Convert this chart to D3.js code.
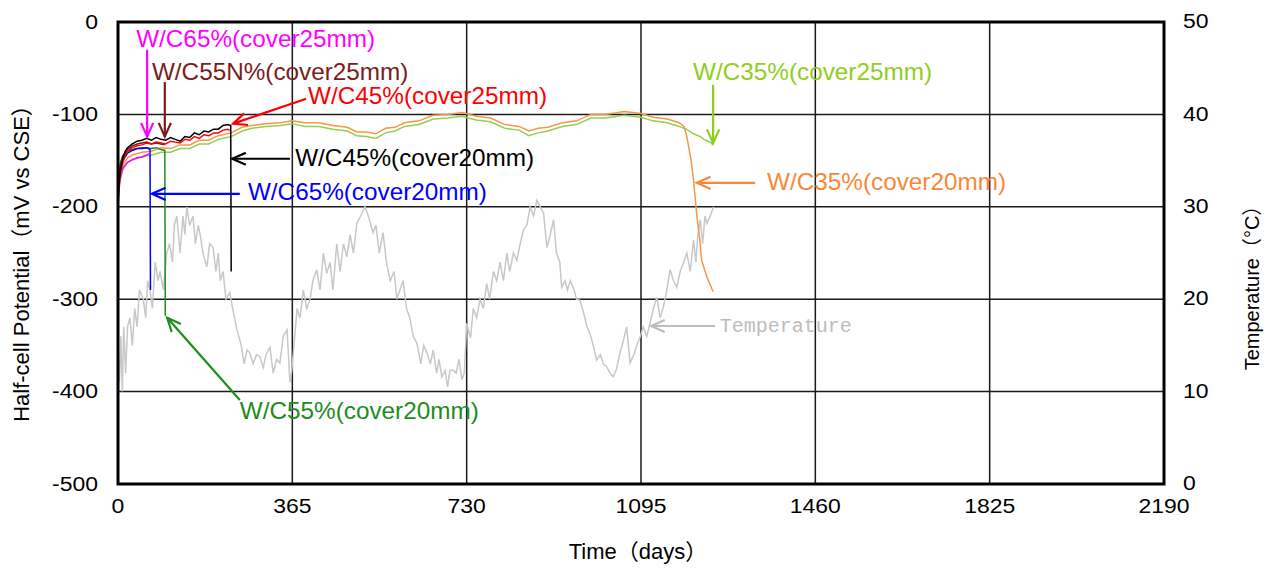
<html>
<head>
  <meta charset="utf-8">
  <title>Half-cell potential</title>
  <script src="https://cdnjs.cloudflare.com/ajax/libs/d3/7.8.5/d3.min.js"></script>
  <style>
    body { margin: 0; background: #fff; }
    text { font-family: "Liberation Sans", Arial, "Noto Sans CJK JP", sans-serif; }
  </style>
</head>
<body>
  <svg></svg>
  <script>

// ---- data ----
var xTicks = [0, 365, 730, 1095, 1460, 1825, 2190];
var yTicks = [0, -100, -200, -300, -400, -500];
var tTicks = [0, 10, 20, 30, 40, 50];

// W/C65%(cover25mm)
var wc65c25Days = [0, 2, 5, 10, 20, 30, 40, 50, 60, 67];
var wc65c25Mv   = [-200, -182, -168, -158, -152, -149, -147, -146, -144, -142];
// W/C65%(cover20mm)
var wc65c20Days = [0, 2, 5, 10, 20, 30, 40, 50, 60, 67, 68];
var wc65c20Mv   = [-195, -175, -160, -150, -142, -139, -137, -137, -136, -138, -290];
// W/C55N%(cover25mm)
var wc55nDays = [0, 2, 5, 10, 20, 30, 40, 50, 60, 70, 80, 90, 98];
var wc55nMv   = [-190, -170, -155, -145, -138, -134, -132, -131, -130, -132, -131, -132, -133];
// W/C55%(cover20mm)
var wc55c20Days = [0, 2, 5, 10, 20, 30, 40, 50, 60, 70, 80, 90, 98, 99];
var wc55c20Mv   = [-190, -168, -152, -145, -140, -138, -137, -136, -136, -137, -136, -138, -139, -318];
// W/C45%(cover20mm)
var wc45c20Days = [0, 2, 5, 10, 15, 20, 30, 40, 50, 60, 70, 80, 90, 100, 110, 120, 130, 140, 150, 160, 170, 180, 190, 200, 210, 220, 230, 236, 237];
var wc45c20Mv   = [-195, -175, -160, -148, -140, -136, -132, -129, -128, -126, -128, -125, -127, -128, -125, -127, -129, -124, -125, -120, -122, -118, -119, -116, -116, -112, -111, -112, -270];
// W/C45%(cover25mm)
var wc45c25Days = [0, 2, 5, 10, 15, 20, 30, 40, 50, 60, 70, 80, 90, 100, 110, 120, 130, 140, 150, 160, 170, 180, 190, 200, 210, 220, 230, 237];
var wc45c25Mv   = [-198, -178, -164, -152, -144, -140, -136, -134, -133, -131, -132, -130, -131, -132, -129, -130, -131, -127, -128, -124, -126, -122, -123, -120, -120, -117, -116, -118];
// W/C35%(cover20mm)
var wc35c20Days = [0, 3, 10, 20, 30, 50, 70, 90, 110, 130, 150, 170, 190, 210, 237, 260, 280, 310, 340, 365, 390, 420, 450, 480, 500, 520, 540, 560, 580, 600, 630, 660, 690, 720, 750, 780, 810, 840, 860, 880, 900, 930, 960, 990, 1020, 1060, 1095, 1120, 1150, 1175, 1185, 1191, 1200, 1205, 1212, 1218, 1222, 1233, 1246];
var wc35c20Mv   = [-190, -170, -155, -147, -144, -141, -140, -136, -137, -133, -133, -128, -128, -123, -120, -114, -112, -110, -109, -107, -109, -109, -112, -114, -119, -119, -121, -115, -114, -109, -107, -101, -100, -98, -102, -104, -111, -113, -118, -115, -114, -109, -107, -100, -100, -97, -99, -103, -105, -109, -113, -124, -150, -171, -210, -235, -258, -276, -292];
// W/C35%(cover25mm)
var wc35c25Days = [0, 3, 10, 20, 30, 50, 70, 90, 110, 130, 150, 170, 190, 210, 237, 260, 280, 310, 340, 365, 390, 420, 450, 480, 500, 520, 540, 560, 580, 600, 630, 660, 690, 720, 750, 780, 810, 840, 860, 880, 900, 930, 960, 990, 1020, 1060, 1095, 1120, 1150, 1175, 1190, 1205, 1219, 1230, 1240, 1246];
var wc35c25Mv   = [-195, -175, -160, -152, -149, -146, -144, -141, -141, -137, -137, -132, -132, -127, -124, -118, -115, -113, -112, -110, -113, -113, -116, -118, -123, -124, -126, -120, -118, -113, -111, -105, -104, -102, -106, -108, -115, -117, -123, -120, -118, -113, -111, -104, -104, -101, -103, -107, -109, -113, -116, -121, -124, -128, -130, -133];

// temperature (right axis)
var tempDays = [0, 3, 6, 9, 12, 16, 20, 25, 30, 35, 40, 45, 53, 58, 62, 67, 72, 78, 84, 88, 95, 102, 108, 114, 118, 123, 130, 136, 140, 144, 150, 157, 162, 168, 172, 178, 186, 192, 199, 205, 210, 214, 220, 226, 234, 240, 249, 258, 264, 270, 276, 283, 290, 297, 304, 310, 318, 325, 332, 339, 346, 354, 360, 364, 370, 375, 381, 388, 395, 402, 408, 416, 423, 430, 437, 444, 450, 458, 465, 472, 479, 486, 493, 500, 508, 517, 524, 534, 540, 547, 555, 562, 570, 578, 584, 590, 597, 604, 611, 618, 626, 634, 640, 647, 654, 660, 667, 672, 678, 685, 690, 695, 702, 708, 714, 720, 725, 730, 738, 744, 751, 758, 765, 772, 778, 786, 793, 800, 807, 814, 820, 828, 835, 842, 849, 856, 863, 870, 877, 884, 891, 898, 905, 912, 918, 925, 929, 936, 941, 947, 955, 960, 967, 975, 982, 988, 995, 1002, 1010, 1016, 1023, 1030, 1037, 1044, 1051, 1058, 1065, 1072, 1080, 1086, 1093, 1100, 1107, 1114, 1121, 1128, 1135, 1142, 1149, 1156, 1163, 1170, 1177, 1184, 1191, 1198, 1205, 1210, 1214, 1219, 1224, 1229, 1233, 1240, 1247];
var tempC    = [14, 11, 16, 10, 17, 12, 17, 18, 15, 19, 17, 21, 20, 18, 22, 21, 19, 24, 22, 23, 21, 25, 26, 24, 28, 29, 25, 29, 27, 30, 28, 29, 26, 28, 27, 25, 23.5, 26, 25.6, 23, 25, 22, 23, 20, 20.7, 19, 16.7, 15, 13, 14.5, 14.2, 13, 14, 13.8, 12.6, 14, 14.8, 12, 13.5, 13.1, 16, 16.7, 11, 12.3, 16, 19, 18, 21, 19, 19.9, 22, 23.2, 21, 25, 22.8, 24, 21, 26, 23, 26, 24.6, 27, 25, 28.2, 29, 30, 29, 27.2, 28, 25, 27.2, 24, 22, 23, 20, 21, 22, 19, 18, 16, 15.2, 13, 15, 14.2, 13, 14.5, 12, 13.5, 11.6, 12.3, 10.5, 12.3, 12.3, 12, 13.5, 11.3, 12, 17.4, 15.8, 19, 18, 20, 19, 21.7, 20, 23, 22, 24, 22, 25, 23, 25, 24.2, 26, 27.5, 28, 30, 29, 30.7, 30, 29.3, 25.6, 27, 28.6, 25, 24, 21.3, 22, 21, 22, 21, 20, 19.9, 18.5, 17, 16.3, 15, 13.4, 14, 13, 12.7, 12, 11.6, 12.5, 14.2, 15.5, 17, 13.1, 14, 15, 15.9, 17, 16, 17.4, 19, 20.2, 18, 19.2, 21, 23.2, 22, 21.3, 23, 24, 25, 23, 26.4, 24, 27, 28.6, 26, 29, 28.2, 29, 30];

// annotation labels, in data units (day, mV)
var labelText  = ["W/C65%(cover25mm)", "W/C55N%(cover25mm)", "W/C45%(cover25mm)", "W/C45%(cover20mm)", "W/C65%(cover20mm)", "W/C55%(cover20mm)", "W/C35%(cover25mm)", "W/C35%(cover20mm)", "Temperature"];
var labelColor = ["#ff00ff", "#7b1c1c", "#ff0000", "#000000", "#0000ff", "#1e8c1e", "#8fce1e", "#f7883a", "#bdbdbd"];
var labelAt    = [[38, -27], [71, -63], [398, -89], [371, -156], [272, -193], [255, -430], [1204, -63], [1359, -182], [1260, -335]];
var arrowFrom  = [[61, -30], [98, -65], [394, -83], [360, -148], [255, -186], [255, -409], [1246, -68], [1334, -174], [1250, -329]];
var arrowTo    = [[61, -124], [98, -124], [241, -110], [239, -148], [71, -186], [103, -320], [1246, -131], [1212, -174], [1116, -329]];

// ---- layout ----
var w = 1274, h = 570;
var margin = {left: 118, right: 110, top: 22, bottom: 86};

var svg = d3.select("svg").attr("width", w).attr("height", h);

var x = d3.scaleLinear().domain([0, 2190]).range([margin.left, w - margin.right]);
var y = d3.scaleLinear().domain([-500, 0]).range([h - margin.bottom, margin.top]);
var yT = d3.scaleLinear().domain([0, 50]).range([h - margin.bottom, margin.top]);

// grid
svg.append("g").selectAll("line").data(xTicks).enter().append("line")
  .attr("x1", d => x(d)).attr("x2", d => x(d))
  .attr("y1", y(0)).attr("y2", y(-500))
  .attr("stroke", "#1a1a1a").attr("stroke-width", 1.5);
svg.append("g").selectAll("line").data(yTicks).enter().append("line")
  .attr("y1", d => y(d)).attr("y2", d => y(d))
  .attr("x1", x(0)).attr("x2", x(2190))
  .attr("stroke", "#1a1a1a").attr("stroke-width", 1.5);

// temperature
var tline = d3.line().x(d => x(d[0])).y(d => yT(d[1]));
svg.append("path")
  .datum(d3.zip(tempDays, tempC))
  .attr("d", tline)
  .attr("fill", "none").attr("stroke", "#c8c8c8").attr("stroke-width", 1.5);

// potential series
var line = d3.line().x(d => x(d[0])).y(d => y(d[1]));
var series = [
  [wc35c25Days, wc35c25Mv, "#92d050"],
  [wc35c20Days, wc35c20Mv, "#f79646"],
  [wc55c20Days, wc55c20Mv, "#228b22"],
  [wc65c20Days, wc65c20Mv, "#0000ff"],
  [wc65c25Days, wc65c25Mv, "#ff00ff"],
  [wc55nDays, wc55nMv, "#7b1c1c"],
  [wc45c25Days, wc45c25Mv, "#ff0000"],
  [wc45c20Days, wc45c20Mv, "#000000"]
];
series.forEach(function(s) {
  svg.append("path")
    .datum(d3.zip(s[0], s[1]))
    .attr("d", line)
    .attr("fill", "none").attr("stroke", s[2]).attr("stroke-width", 1.5);
});

// frame
svg.append("rect")
  .attr("x", x(0)).attr("y", y(0))
  .attr("width", x(2190) - x(0)).attr("height", y(-500) - y(0))
  .attr("fill", "none").attr("stroke", "#000").attr("stroke-width", 3);

// tick labels (slightly wide, as in the original)
svg.append("g").selectAll("text").data(yTicks).enter().append("text")
  .attr("transform", d => "translate(" + (x(0) - 20) + "," + y(d) + ") scale(1.12,1)")
  .attr("dy", "0.32em")
  .attr("text-anchor", "end").attr("font-size", 20.5)
  .text(d => d);
svg.append("g").selectAll("text").data(xTicks).enter().append("text")
  .attr("transform", d => "translate(" + x(d) + "," + (y(-500) + 29) + ") scale(1.12,1)")
  .attr("text-anchor", "middle").attr("font-size", 20.5)
  .text(d => d);
svg.append("g").selectAll("text").data(tTicks).enter().append("text")
  .attr("transform", d => "translate(" + (x(2190) + 19) + "," + yT(d) + ") scale(1.12,1)")
  .attr("dy", "0.30em")
  .attr("text-anchor", "start").attr("font-size", 20.5)
  .text(d => d);

// axis titles
svg.append("text")
  .attr("transform", "translate(29," + ((y(0) + y(-500)) / 2 + 5) + ") rotate(-90)")
  .attr("text-anchor", "middle").attr("font-size", 22)
  .text("Half-cell Potential（mV vs CSE）");
svg.append("text")
  .attr("x", (x(0) + x(2190)) / 2 - 3).attr("y", 559)
  .attr("text-anchor", "middle").attr("font-size", 22)
  .text("Time（days）");
svg.append("text")
  .attr("transform", "translate(1259," + ((y(0) + y(-500)) / 2 + 30) + ") rotate(-90)")
  .attr("text-anchor", "middle").attr("font-size", 20)
  .text("Temperature（°C）");

// annotations with open arrowheads
labelText.forEach(function(t, i) {
  var c = labelColor[i];
  var isTemp = (t === "Temperature");
  svg.append("text")
    .attr("x", x(labelAt[i][0])).attr("y", y(labelAt[i][1]))
    .attr("fill", c)
    .attr("font-size", isTemp ? 20 : 24.3)
    .style("font-family", isTemp ? "'Liberation Mono', 'DejaVu Sans Mono', monospace" : null)
    .text(t);
  var x1 = x(arrowFrom[i][0]), y1 = y(arrowFrom[i][1]);
  var x2 = x(arrowTo[i][0]), y2 = y(arrowTo[i][1]);
  var a = Math.atan2(y2 - y1, x2 - x1);
  var len = 15, spread = 0.42;
  var g = svg.append("g").attr("stroke", c).attr("stroke-width", 2.2).attr("fill", "none");
  g.append("line").attr("x1", x1).attr("y1", y1).attr("x2", x2).attr("y2", y2);
  g.append("path").attr("d",
    "M" + (x2 - len * Math.cos(a - spread)) + "," + (y2 - len * Math.sin(a - spread)) +
    "L" + x2 + "," + y2 +
    "L" + (x2 - len * Math.cos(a + spread)) + "," + (y2 - len * Math.sin(a + spread)));
});

  </script>
</body>
</html>
